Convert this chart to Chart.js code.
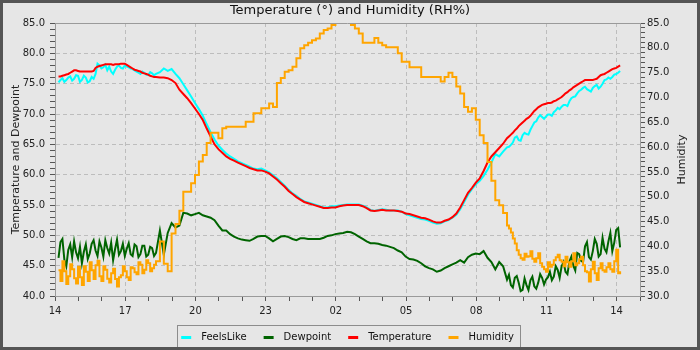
<!DOCTYPE html>
<html>
<head>
<meta charset="utf-8">
<title>Temperature and Humidity</title>
<script src="https://cdn.jsdelivr.net/npm/chart.js@4.4.1/dist/chart.umd.min.js"></script>
<style>
  html, body { margin: 0; padding: 0; background: #e6e6e6; }
  #wrap { width: 700px; height: 350px; }
</style>
</head>
<body>
<div id="wrap"><canvas id="weather"></canvas></div>
<script>
const FONT = '"DejaVu Sans", Verdana, sans-serif';

// minutes after 14:00: 5-minute readings in the gusty afternoon spells, 10-minute overnight
const startHour = 14;
const times = [];
for (let m = 9; m <= 259; m += 5) times.push(m / 60);
for (let m = 269; m <= 1159; m += 10) times.push(m / 60);
for (let m = 1164; m <= 1449; m += 5) times.push(m / 60);

const feelsLike = [
  75.2,75.6,75.9,75.3,75.6,76.0,76.2,75.5,75.8,76.4,76.3,75.3,75.6,76.3,76.0,75.2,75.4,76.1,75.8,76.6,
  78.3,78.0,77.5,77.7,78.1,77.2,77.8,77.0,76.6,77.3,77.8,78.0,77.6,77.5,78.0,77.8,77.7,77.5,77.4,77.2,
  77.0,76.8,76.6,77.0,76.8,76.5,76.4,76.9,76.7,76.4,76.6,
  76.9,77.5,77.1,77.4,
  76.6,75.9,74.9,73.9,72.9,71.8,70.8,69.7,68.3,67.0,
  65.8,64.8,64.1,63.5,63.0,62.6,62.2,61.9,61.6,61.3,
  61.0,60.9,61.0,60.7,60.4,59.9,59.4,58.8,58.2,57.5,
  56.9,56.5,56.0,55.6,55.4,55.2,55.0,54.8,54.6,54.6,
  54.8,54.8,54.9,55.0,55.1,55.1,55.1,55.1,54.9,54.6,
  54.2,54.0,54.2,54.3,54.2,54.1,54.1,54.1,53.9,53.5,
  53.3,53.1,52.9,52.7,52.6,52.4,52.1,51.9,52.0,52.3,
  52.5,52.9,53.4,54.3,55.5,56.7,57.6,58.4,59.0,59.8,
  60.8,62.0,63.4,63.0,63.8,64.5,
  64.6,64.9,65.3,66.1,66.3,65.7,65.6,66.5,66.9,66.7,66.6,67.4,68.0,68.6,68.8,69.4,69.8,69.5,69.2,69.6,
  69.9,69.9,69.7,70.3,70.6,71.0,70.8,71.2,71.5,71.5,71.3,72.1,72.6,72.8,72.9,73.4,73.8,74.0,74.3,74.5,
  74.1,73.9,73.7,74.3,74.6,74.8,74.2,74.5,75.0,75.6,75.7,76.0,75.8,76.1,76.5,76.6,76.8,77.1
];

const dewpoint = [
  46.3,48.9,49.4,46.0,44.9,47.6,48.5,46.4,49.0,47.2,46.2,48.1,45.4,47.3,48.5,46.1,47.0,48.6,49.2,47.5,
  46.6,49.0,48.0,46.5,49.2,47.9,47.0,48.8,45.9,47.7,49.3,46.8,47.4,48.6,46.6,47.8,48.7,46.9,46.6,48.5,
  48.2,46.4,46.9,48.3,48.3,46.5,46.8,48.1,47.9,46.6,47.1,
  50.8,46.8,50.4,52.0,
  51.3,51.6,53.7,53.6,53.3,53.5,53.7,53.3,53.1,52.9,
  52.5,51.6,50.8,50.8,50.2,49.8,49.5,49.3,49.2,49.1,
  49.4,49.8,49.9,49.9,49.5,49.0,49.4,49.8,49.9,49.7,
  49.4,49.2,49.5,49.5,49.4,49.4,49.4,49.4,49.6,49.9,
  50.0,50.2,50.3,50.4,50.6,50.5,50.2,49.8,49.4,49.0,
  48.7,48.7,48.6,48.4,48.3,48.1,47.9,47.5,47.2,46.5,
  46.1,46.0,45.8,45.4,44.9,44.6,44.4,44.0,44.2,44.6,
  44.9,45.2,45.5,45.9,45.5,46.4,46.8,47.0,46.9,47.4,
  46.3,45.6,44.4,45.6,44.9,42.7,
  43.5,41.8,41.4,43.0,43.3,42.2,40.8,41.0,42.9,41.8,41.0,42.6,43.2,41.6,41.2,42.2,43.6,43.0,41.9,42.7,
  43.1,44.0,42.6,43.2,44.9,44.3,43.0,44.9,45.6,44.0,43.6,45.7,46.5,45.0,44.2,47.1,46.9,45.8,45.6,48.2,
  48.9,46.4,46.0,47.4,49.4,48.6,46.5,46.9,49.6,47.8,47.2,49.0,50.4,47.4,48.8,50.9,51.2,48.0
];

const temperature = [
  76.2,76.2,76.3,76.4,76.5,76.6,76.8,77.0,77.2,77.2,77.1,77.0,77.0,77.0,77.0,77.0,77.0,77.0,77.1,77.6,
  77.8,77.9,78.0,78.1,78.2,78.2,78.2,78.2,78.1,78.2,78.2,78.2,78.3,78.3,78.3,78.1,77.9,77.7,77.5,77.3,
  77.2,77.1,77.0,76.8,76.7,76.6,76.5,76.3,76.2,76.1,76.1,
  76.0,76.0,75.9,75.6,
  75.1,74.0,73.3,72.6,71.8,70.9,70.0,69.0,67.6,66.3,
  65.0,64.2,63.6,63.0,62.6,62.3,62.0,61.7,61.4,61.1,
  60.9,60.7,60.7,60.5,60.2,59.7,59.2,58.6,58.0,57.3,
  56.8,56.3,55.9,55.5,55.3,55.1,54.9,54.7,54.5,54.5,
  54.6,54.6,54.8,54.9,55.0,55.0,55.0,55.0,54.8,54.5,
  54.1,54.0,54.1,54.2,54.1,54.1,54.1,54.0,53.9,53.6,
  53.5,53.3,53.1,52.9,52.8,52.6,52.3,52.1,52.1,52.4,
  52.6,53.0,53.6,54.6,55.8,57.0,57.8,58.7,59.4,60.6,
  62.0,63.0,63.7,64.4,65.1,66.0,
  66.3,66.6,66.9,67.3,67.6,68.0,68.3,68.6,68.9,69.2,69.4,69.7,70.1,70.5,70.8,71.1,71.3,71.5,71.6,71.7,
  71.8,71.8,71.9,72.1,72.2,72.4,72.6,72.8,73.1,73.4,73.6,73.9,74.1,74.4,74.6,74.8,75.0,75.2,75.4,75.6,
  75.6,75.6,75.6,75.6,75.7,75.8,76.1,76.4,76.5,76.6,76.8,77.0,77.2,77.4,77.5,77.6,77.8,78.0
];

const humidity = [
  35.2,33.0,37.0,35.0,32.4,34.0,36.4,35.4,33.6,32.5,35.9,33.8,32.2,36.0,34.9,33.0,36.8,35.2,33.4,36.2,
  37.1,34.0,33.0,36.0,35.3,33.5,32.7,34.6,35.5,33.4,31.9,33.8,34.2,36.0,35.0,33.8,33.2,35.8,35.6,34.8,
  34.4,36.8,36.3,34.6,35.3,37.2,36.6,35.0,35.6,36.3,37.0,
  41.0,36.5,35.0,42.6,
  44.5,47.2,51.0,51.0,52.7,54.4,57.1,58.4,60.8,62.9,
  62.9,61.8,63.8,64.1,64.1,64.1,64.1,64.1,65.1,65.1,
  66.8,66.8,67.8,67.8,68.8,68.1,72.9,73.9,75.2,75.5,
  76.2,77.9,79.9,80.5,81.0,81.5,81.9,82.9,83.6,83.9,
  84.6,85.2,86.0,86.0,85.6,84.6,83.9,82.9,81.0,81.0,
  81.0,82.0,81.0,80.5,80.1,80.1,80.1,78.9,77.2,77.2,
  76.1,76.1,76.1,74.1,74.1,74.1,74.1,74.1,73.2,74.1,
  75.0,74.1,72.2,70.8,68.1,67.1,67.8,65.5,62.4,60.8,
  57.0,53.2,49.3,48.3,46.7,44.2,
  43.6,42.8,41.6,40.6,39.2,38.3,37.6,37.3,38.5,37.9,38.0,39.0,37.5,36.9,37.6,38.6,36.6,35.9,35.4,34.9,
  36.8,35.9,36.3,37.2,37.8,38.3,37.2,36.9,36.0,37.9,36.8,35.9,37.0,38.6,36.2,36.6,37.4,37.9,36.2,35.0,
  34.8,32.9,35.4,36.9,34.6,33.2,35.6,36.6,35.2,34.9,35.8,36.6,35.4,34.9,37.0,39.3,34.6,35.0
];

// short line used as the legend key: blank lead-in, 10px of colour, gap before the text
function swatch(color) {
  const c = document.createElement('canvas');
  c.width = 26; c.height = 4;
  const g = c.getContext('2d');
  g.fillStyle = color;
  g.fillRect(11, 1, 10, 3);
  return c;
}

function series(label, data, color, order, axis, stepped) {
  return {
    label, data, order, stepped,
    yAxisID: axis,
    borderColor: color,
    backgroundColor: color,
    borderWidth: 2,
    pointRadius: 0,
    pointStyle: swatch(color),
    fill: false,
    tension: 0
  };
}

const gridColor = step => ctx => (ctx.tick && Math.round(ctx.tick.value) % step === 0) ? '#bdbdbd' : 'transparent';

const frame = {
  id: 'frame',
  beforeDraw(chart) {
    const ctx = chart.ctx;
    ctx.save();
    ctx.fillStyle = '#e6e6e6';
    ctx.fillRect(0, 0, chart.width, chart.height);
    ctx.restore();
  },
  afterLayout(chart) {
    const lg = chart.legend;
    lg.left -= 8; lg.right -= 8;
    lg.top += 2; lg.bottom += 2;
  },
  afterDraw(chart) {
    const ctx = chart.ctx;
    const a = chart.chartArea;
    ctx.save();
    ctx.strokeStyle = '#9a9a9a';
    ctx.lineWidth = 1;
    ctx.beginPath();
    ctx.moveTo(a.left, a.top + 0.5);
    ctx.lineTo(a.right, a.top + 0.5);
    ctx.stroke();

    // right axis title, reading upwards
    ctx.save();
    ctx.fillStyle = '#222';
    ctx.font = '11px ' + FONT;
    ctx.textAlign = 'center';
    ctx.textBaseline = 'middle';
    ctx.translate(682, (a.top + a.bottom) / 2);
    ctx.rotate(-Math.PI / 2);
    ctx.fillText('Humidity', 0, 0);
    ctx.restore();

    // box round the legend
    const hb = chart.legend.legendHitBoxes;
    if (hb && hb.length) {
      const last = hb[hb.length - 1];
      const x0 = Math.round(hb[0].left + 11 - 4);
      const x1 = Math.round(last.left + last.width + 6);
      const y0 = Math.round(hb[0].top - 7);
      const y1 = Math.round(hb[0].top + 15);
      ctx.strokeStyle = '#8c8c8c';
      ctx.strokeRect(x0 + 0.5, y0 + 0.5, x1 - x0, y1 - y0);
    }

    ctx.strokeStyle = '#555';
    ctx.lineWidth = 3;
    ctx.strokeRect(1.5, 1.5, chart.width - 3, chart.height - 3);
    ctx.restore();
  }
};

new Chart(document.getElementById('weather'), {
  type: 'line',
  data: {
    labels: times,
    datasets: [
      series('FeelsLike', feelsLike, '#00ffff', 3, 'y', false),
      series('Dewpoint', dewpoint, '#006400', 2, 'y', false),
      series('Temperature', temperature, '#ff0000', 1, 'y', false),
      series('Humidity', humidity, '#ffa500', 0, 'y1', true)
    ]
  },
  options: {
    responsive: true,
    maintainAspectRatio: false,
    animation: false,
    events: [],
    layout: { padding: 0 },
    plugins: {
      title: {
        display: true,
        text: 'Temperature (°) and Humidity (RH%)',
        color: '#111',
        font: { family: FONT, size: 13, weight: 'normal', lineHeight: 1.2 },
        padding: { top: 3, bottom: 4.4 }
      },
      legend: {
        position: 'bottom',
        labels: {
          usePointStyle: true,
          pointStyleWidth: 26,
          padding: 6,
          color: '#111',
          font: { family: FONT, size: 10 },
          sort: (a, b) => a.datasetIndex - b.datasetIndex
        }
      },
      tooltip: { enabled: false }
    },
    scales: {
      x: {
        type: 'linear',
        min: 0,
        max: 25,
        afterFit: s => { s.height = 28; },
        ticks: {
          stepSize: 1,
          autoSkip: false,
          maxRotation: 0,
          padding: 4,
          color: '#222',
          font: { family: FONT, size: 10 },
          callback: v => v % 3 === 0 ? String((startHour + v) % 24).padStart(2, '0') : ''
        },
        grid: { color: gridColor(3), tickColor: '#555', tickLength: 5 },
        border: { color: '#9a9a9a', dash: [4, 3] }
      },
      y: {
        position: 'left',
        min: 40,
        max: 85,
        afterFit: s => { s.width = 55; },
        ticks: {
          stepSize: 1,
          autoSkip: false,
          padding: 5,
          color: '#222',
          font: { family: FONT, size: 10 },
          callback: v => v % 5 === 0 ? v.toFixed(1) : ''
        },
        grid: { color: gridColor(5), tickColor: '#555', tickLength: 5 },
        border: { color: '#9a9a9a', dash: [4, 3] },
        title: {
          display: true,
          text: 'Temperature and Dewpoint',
          color: '#222',
          font: { family: FONT, size: 11 },
          padding: { top: 10 }
        }
      },
      y1: {
        position: 'right',
        min: 30,
        max: 85,
        afterFit: s => { s.width = 60; },
        ticks: {
          stepSize: 1,
          autoSkip: false,
          padding: 2,
          color: '#222',
          font: { family: FONT, size: 10 },
          callback: v => v % 5 === 0 ? v.toFixed(1) : ''
        },
        grid: { drawOnChartArea: false, color: 'transparent', tickColor: '#555', tickLength: 5 },
        border: { color: '#9a9a9a' }
      }
    }
  },
  plugins: [frame]
});
</script>
</body>
</html>
